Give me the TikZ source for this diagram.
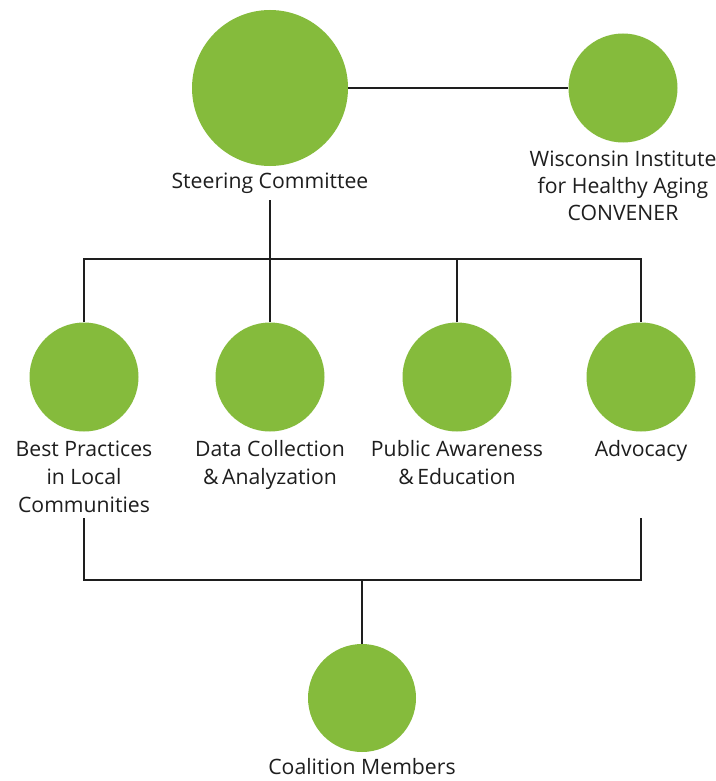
\documentclass[tikz,border=0pt]{standalone}
\usepackage{fontspec}
\setmainfont{Open Sans}
\definecolor{leaf}{RGB}{133,187,60}
\definecolor{ink}{RGB}{30,30,30}
\begin{document}
\begin{tikzpicture}[x=1pt,y=-1pt,
  bubble/.style={circle,fill=leaf,draw=none,inner sep=0pt},
  lbl/.style={anchor=base,align=center,text=ink,font=\fontsize{21.2}{27}\selectfont,inner sep=0pt},
  wire/.style={draw=ink,line width=2pt}]
\useasboundingbox[fill=white] (0,0) rectangle (715,781);
% circles
\node[bubble,minimum size=156] (st) at (270,88) {};
\node[bubble,minimum size=109] (wi) at (623,88) {};
\node[bubble,minimum size=109] (c1) at (84,377) {};
\node[bubble,minimum size=109] (c2) at (270,377) {};
\node[bubble,minimum size=109] (c3) at (457,377) {};
\node[bubble,minimum size=109] (c4) at (641,377) {};
\node[bubble,minimum size=108] (co) at (362,698) {};
% labels (base anchor = baseline of the last line)
\node[lbl] (stl) at (270,188) {Steering Committee};
\node[lbl,font=\fontsize{21.2}{27}\selectfont] (wil) at (623,220) {Wisconsin Institute\\for Healthy Aging\\CONVENER};
\node[lbl,font=\fontsize{21.2}{28}\selectfont] (l1) at (84,512) {Best Practices\\in Local\\Communities};
\node[lbl,font=\fontsize{21.2}{28}\selectfont] (l2) at (270,484) {Data Collection\\\&\,Analyzation};
\node[lbl,font=\fontsize{21.2}{28}\selectfont] (l3) at (457,484) {Public Awareness\\\&\,Education};
\node[lbl] (l4) at (641,456) {Advocacy};
\node[lbl] (col) at (362,774) {Coalition Members};
% coordinates
\coordinate (stout) at (270,200);
\coordinate (bus) at (270,259);
\coordinate (b1) at (84,518);
\coordinate (b4) at (641,518);
\coordinate (bus2) at (362,580);
% connectors
\draw[wire] (st.east) -- (wi.west);
\draw[wire] (stout) -- (bus);
\draw[wire] (c1.north) |- (c4.north |- bus) -- (c4.north);
\draw[wire] (c2.north) -- (c2.north |- bus);
\draw[wire] (c3.north) -- (c3.north |- bus);
\draw[wire] (b1) |- (b4 |- bus2) -- (b4);
\draw[wire] (bus2) -- (co.north);
\end{tikzpicture}
\end{document}
